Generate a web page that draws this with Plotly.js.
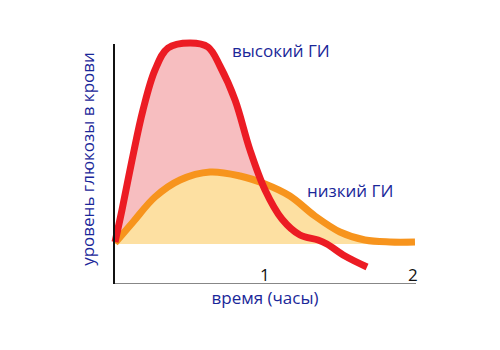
<!DOCTYPE html>
<html>
<head>
<meta charset="utf-8">
<script src="https://cdn.plot.ly/plotly-3.0.1.min.js"></script>
<style>html,body{margin:0;padding:0;background:#fff;}#chart{width:500px;height:350px;}</style>
</head>
<body>
<div id="chart"></div>
<script>
// time (hours) and glucose level (relative to fasting baseline = 0)
const highGiTime  = [0.00, 0.047, 0.115, 0.189, 0.270, 0.358, 0.507, 0.628, 0.709, 0.811, 0.912, 1.014, 1.128, 1.250, 1.372, 1.432, 1.554, 1.703];
const highGiLevel = [2, 34, 84, 134, 174, 196, 201, 197, 178, 144, 94, 54, 25, 9, 4, 0, -12, -23];

const lowGiTime  = [0.00, 0.122, 0.270, 0.439, 0.642, 0.845, 1.014, 1.182, 1.351, 1.520, 1.689, 1.858, 2.027];
const lowGiLevel = [1, 22, 47, 64, 72, 68, 60, 48, 28, 12, 4, 2, 2];

const tickVals   = [1, 2];
const tickLabels = ['1', '2'];

const seriesNames = ['высокий ГИ', 'низкий ГИ'];
const xTitle = 'время (часы)';
const yTitle = 'уровень глюкозы в крови';

// fill under high-GI curve only while above baseline
const fillEnd = highGiLevel.findIndex((v, i) => i > 5 && v <= 0) + 1;

const textBlue = '#1a2799';
const font = 'Open Sans, DejaVu Sans, sans-serif';
const sm = 1.0;

const traces = [
  {x: highGiTime.slice(0, fillEnd), y: highGiLevel.slice(0, fillEnd), mode: 'lines', fill: 'tozeroy',
   fillcolor: '#f7bec0', line: {width: 0, shape: 'spline', smoothing: sm}, hoverinfo: 'skip', showlegend: false},
  {x: lowGiTime, y: lowGiLevel, mode: 'lines', fill: 'tozeroy',
   fillcolor: '#fde0a2', line: {width: 0, shape: 'spline', smoothing: sm}, hoverinfo: 'skip', showlegend: false},
  {x: lowGiTime, y: lowGiLevel, mode: 'lines', name: seriesNames[1],
   line: {color: '#f7941d', width: 7, shape: 'spline', smoothing: sm}, showlegend: false},
  {x: highGiTime, y: highGiLevel, mode: 'lines', name: seriesNames[0],
   line: {color: '#ec1c24', width: 7, shape: 'spline', smoothing: sm}, showlegend: false}
];

const annotations = [
  {x: 1.12, y: 194, xref: 'x', yref: 'y', text: seriesNames[0], showarrow: false,
   font: {family: font, size: 17, color: textBlue}, xanchor: 'center', yanchor: 'middle'},
  {x: 1.59, y: 54, xref: 'x', yref: 'y', text: seriesNames[1], showarrow: false,
   font: {family: font, size: 17, color: textBlue}, xanchor: 'center', yanchor: 'middle'}
];
tickVals.forEach((v, i) => annotations.push({
  x: v, y: -30, xref: 'x', yref: 'y', text: tickLabels[i], showarrow: false, xshift: 2,
  font: {family: font, size: 17, color: '#111'}, xanchor: 'center', yanchor: 'middle'
}));

const layout = {
  width: 500, height: 350,
  margin: {l: 110, r: 80, t: 34, b: 66},
  paper_bgcolor: '#fff', plot_bgcolor: '#fff',
  xaxis: {range: [-0.034, 2.061], showgrid: false, zeroline: false, showline: false,
          showticklabels: false, ticks: '', fixedrange: true,
          title: {text: xTitle, font: {family: font, size: 17, color: textBlue}, standoff: 8}},
  yaxis: {range: [-40, 210], showgrid: false, zeroline: false, showline: false,
          showticklabels: false, ticks: '', fixedrange: true,
          title: {text: yTitle, font: {family: font, size: 17, color: textBlue}, standoff: 10}},
  shapes: [
    {type: 'line', xref: 'x', yref: 'y', x0: -0.007, x1: -0.007, y0: -40.5, y1: 200, line: {color: '#111', width: 2}},
    {type: 'line', xref: 'x', yref: 'y', x0: -0.014, x1: 2.034, y0: -40.5, y1: -40.5, line: {color: '#111', width: 2}}
  ],
  annotations: annotations,
  showlegend: false
};

Plotly.newPlot('chart', traces, layout, {staticPlot: true, displayModeBar: false});
</script>
</body>
</html>
